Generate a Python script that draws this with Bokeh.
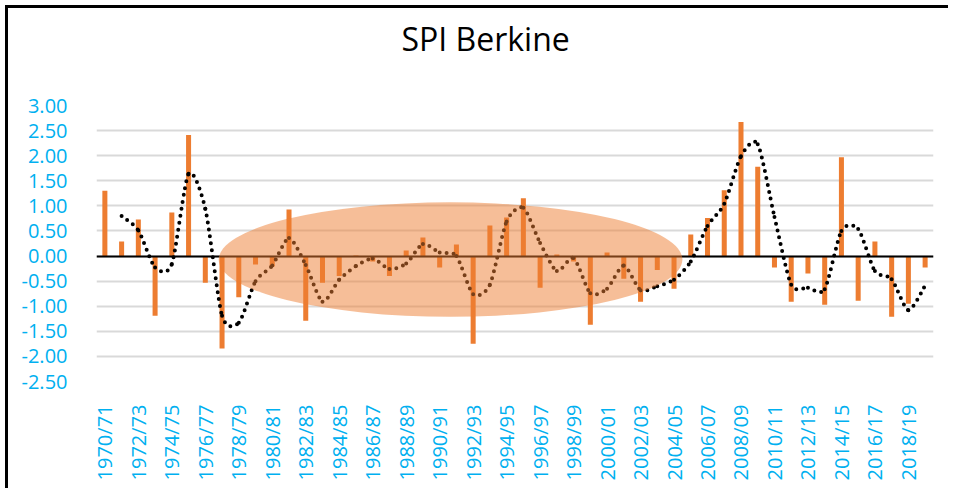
import numpy as np
from bokeh.plotting import figure
from bokeh.models import (FixedTicker, PrintfTickFormatter, Title,
                          ColumnDataSource, Range1d)
from bokeh.embed import file_html
from bokeh.resources import INLINE

# ---------------- data ----------------
seasons = ["1970/71", "1971/72", "1972/73", "1973/74", "1974/75", "1975/76", "1976/77",
           "1977/78", "1978/79", "1979/80", "1980/81", "1981/82", "1982/83", "1983/84",
           "1984/85", "1985/86", "1986/87", "1987/88", "1988/89", "1989/90", "1990/91",
           "1991/92", "1992/93", "1993/94", "1994/95", "1995/96", "1996/97", "1997/98",
           "1998/99", "1999/00", "2000/01", "2001/02", "2002/03", "2003/04", "2004/05",
           "2005/06", "2006/07", "2007/08", "2008/09", "2009/10", "2010/11", "2011/12",
           "2012/13", "2013/14", "2014/15", "2015/16", "2016/17", "2017/18", "2018/19",
           "2019/20"]

spi = [1.30, 0.29, 0.73, -1.19, 0.87, 2.41, -0.53, -1.84, -0.82, -0.17,
       -0.21, 0.93, -1.29, -0.53, -0.40, 0.01, -0.11, -0.40, 0.11, 0.37,
       -0.23, 0.23, -1.75, 0.61, 0.77, 1.15, -0.63, 0.03, -0.11, -1.37,
       0.07, -0.45, -0.91, -0.28, -0.65, 0.43, 0.76, 1.31, 2.67, 1.78,
       -0.23, -0.91, -0.35, -0.97, 1.97, -0.89, 0.29, -1.21, -0.95, -0.23]

# 2-period moving-average trend line (starts at the 2nd season)
trend_seasons = seasons[1:]
trend = [0.80, 0.51, -0.23, -0.16, 1.64, 0.94, -1.19, -1.33, -0.50, -0.19,
         0.36, -0.18, -0.91, -0.47, -0.20, -0.05, -0.26, -0.15, 0.24, 0.07,
         0.00, -0.76, -0.57, 0.69, 0.96, 0.26, -0.30, -0.04, -0.74, -0.65,
         -0.19, -0.68, -0.60, -0.47, -0.11, 0.60, 1.04, 1.99, 2.23, 0.78,
         -0.57, -0.63, -0.66, 0.50, 0.54, -0.30, -0.46, -1.08, -0.59]

y_ticks = [-2.5, -2.0, -1.5, -1.0, -0.5, 0.0, 0.5, 1.0, 1.5, 2.0, 2.5, 3.0]
title_text = "SPI Berkine"

# ---------------- figure ----------------
n = len(seasons)
idx = list(range(n))
pos = {s: i for i, s in enumerate(seasons)}

p = figure(width=948, height=488, output_backend="svg", toolbar_location=None,
           x_range=Range1d(-0.5, n - 0.5), y_range=Range1d(min(y_ticks), max(y_ticks)),
           min_border_left=96, min_border_right=15, min_border_top=105, min_border_bottom=107,
           background_fill_color="white", border_fill_color=None)
p.outline_line_color = None
# chart border on the left and top: inset shadows behind the transparent canvas border
p.styles = {"box-shadow": "inset 5px 5px 0px 0px white, inset 8px 8px 0px 0px black"}

# bars
p.vbar(x=idx, top=spi, width=0.3, fill_color="#ED7D31", line_color=None)

# zero line
p.hspan(y=[0], line_color="black", line_width=2)

# smoothed dotted trend line (bezier segments through the trend points)
k = 1 / 8
tx = np.array([pos[s] for s in trend_seasons], dtype=float)
ty = np.array(trend, dtype=float)
m = len(tx)
x0, y0, x1, y1, cx0, cy0, cx1, cy1 = [], [], [], [], [], [], [], []
for i in range(m - 1):
    a = i - 1 if i > 0 else i
    d = i + 2 if i + 2 < m else i + 1
    x0.append(tx[i]); y0.append(ty[i]); x1.append(tx[i + 1]); y1.append(ty[i + 1])
    cx0.append(tx[i] + (tx[i + 1] - tx[a]) * k); cy0.append(ty[i] + (ty[i + 1] - ty[a]) * k)
    cx1.append(tx[i + 1] - (tx[d] - tx[i]) * k); cy1.append(ty[i + 1] - (ty[d] - ty[i]) * k)
bz = ColumnDataSource(dict(x0=x0, y0=y0, x1=x1, y1=y1, cx0=cx0, cy0=cy0, cx1=cx1, cy1=cy1))
p.bezier(x0="x0", y0="y0", x1="x1", y1="y1", cx0="cx0", cy0="cy0", cx1="cx1", cy1="cy1",
         source=bz, line_color="black", line_width=4, line_dash="0 7", line_cap="round")

# highlight ellipse
p.ellipse(x=[20.65], y=[-0.07], width=27.7, height=2.28,
          fill_color="#ED7D31", fill_alpha=0.5, line_color=None)

# axes
label_color = "#00B0F0"
p.xaxis.ticker = FixedTicker(ticks=idx[::2])
p.xaxis.major_label_overrides = {i: seasons[i] for i in idx[::2]}
p.xaxis.major_label_orientation = np.pi / 2
p.xaxis.major_label_standoff = 17
p.yaxis.ticker = FixedTicker(ticks=y_ticks)
p.yaxis.formatter = PrintfTickFormatter(format="%.2f")
p.yaxis.major_label_standoff = 23
for ax in (p.xaxis[0], p.yaxis[0]):
    ax.axis_line_color = None
    ax.major_tick_line_color = None
    ax.minor_tick_line_color = None
    ax.major_label_text_color = label_color
    ax.major_label_text_font = "Open Sans"
    ax.major_label_text_font_size = "20px"

p.xgrid.grid_line_color = None
p.ygrid.ticker = FixedTicker(ticks=y_ticks)
p.ygrid.grid_line_color = "#D9D9D9"
p.ygrid.grid_line_width = 2

# title (a blank second line lifts it above the plot area)
p.add_layout(Title(text=title_text + "\n ", align="left", offset=305, standoff=0,
                   vertical_align="bottom", text_line_height=1.05,
                   text_font="Open Sans", text_font_size="32px",
                   text_font_style="normal", text_color="black"), "above")

open("out.html", "w").write(file_html(p, INLINE))
